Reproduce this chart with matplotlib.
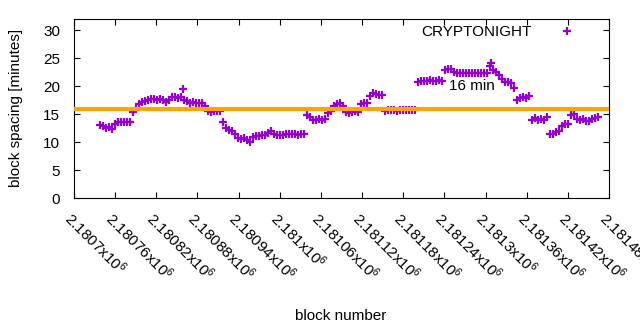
import matplotlib
matplotlib.use("Agg")
import matplotlib.pyplot as plt
from matplotlib.ticker import FuncFormatter, MultipleLocator

plt.rcParams['font.family'] = ['Liberation Sans', 'DejaVu Sans']
plt.rcParams['mathtext.default'] = 'regular'

# block number / spacing in minutes
blocks = [
    2180738, 2180742, 2180747, 2180751, 2180755, 2180760, 2180764, 2180769,
    2180773, 2180777, 2180782, 2180786, 2180790, 2180795, 2180799, 2180804,
    2180808, 2180812, 2180817, 2180821, 2180825, 2180830, 2180834, 2180839,
    2180843, 2180847, 2180852, 2180856, 2180859, 2180860, 2180865, 2180869,
    2180873, 2180878, 2180882, 2180887, 2180891, 2180895, 2180900, 2180904,
    2180908, 2180913, 2180917, 2180922, 2180926, 2180930, 2180935, 2180939,
    2180943, 2180948, 2180952, 2180957, 2180961, 2180965, 2180970, 2180974,
    2180978, 2180983, 2180987, 2180992, 2180996, 2181000, 2181005, 2181009,
    2181013, 2181018, 2181022, 2181027, 2181031, 2181035, 2181040, 2181044,
    2181048, 2181053, 2181057, 2181062, 2181066, 2181070, 2181075, 2181079,
    2181083, 2181088, 2181092, 2181097, 2181101, 2181105, 2181110, 2181114,
    2181118, 2181123, 2181127, 2181132, 2181136, 2181140, 2181145, 2181149,
    2181153, 2181158, 2181162, 2181167, 2181171, 2181175, 2181180, 2181184,
    2181188, 2181193, 2181197, 2181202, 2181206, 2181210, 2181215, 2181219,
    2181223, 2181228, 2181232, 2181237, 2181241, 2181245, 2181250, 2181254,
    2181258, 2181263, 2181267, 2181272, 2181276, 2181280, 2181285, 2181289,
    2181293, 2181298, 2181302, 2181306, 2181308, 2181311, 2181315, 2181320,
    2181324, 2181328, 2181333, 2181337, 2181341, 2181346, 2181350, 2181355,
    2181359, 2181363, 2181368, 2181372, 2181376, 2181381, 2181385, 2181390,
    2181394, 2181398, 2181403, 2181407, 2181411, 2181416, 2181420, 2181425,
    2181429, 2181433, 2181438, 2181442, 2181446, 2181451, 2181455, 2181460,
    2181464,
]
spacing = [
    13.0, 12.8, 12.6, 12.7, 12.4, 13.3, 13.6, 13.5,
    13.6, 13.6, 13.5, 15.4, 16.0, 16.8, 17.1, 17.4,
    17.6, 17.7, 17.7, 17.6, 17.7, 17.5, 17.2, 17.6,
    18.0, 18.0, 17.9, 18.0, 19.5, 17.6, 17.3, 16.9,
    17.1, 17.0, 16.9, 17.0, 16.5, 15.5, 15.3, 15.5,
    15.6, 15.5, 13.6, 12.6, 12.2, 12.0, 11.4, 10.7,
    10.6, 10.7, 10.4, 10.1, 10.9, 11.1, 11.0, 11.2,
    11.3, 11.6, 11.9, 11.5, 11.3, 11.2, 11.3, 11.4,
    11.4, 11.5, 11.5, 11.3, 11.4, 11.4, 14.8, 14.5,
    14.0, 13.9, 14.1, 14.0, 14.1, 15.2, 15.6, 16.5,
    16.8, 17.0, 16.5, 15.3, 15.2, 15.3, 15.5, 15.4,
    16.8, 17.0, 16.9, 18.3, 18.7, 18.6, 18.5, 18.4,
    15.6, 15.7, 15.7, 15.7, 15.6, 15.7, 15.7, 15.7,
    15.7, 15.7, 15.7, 20.8, 21.0, 21.0, 21.0, 21.1,
    21.0, 21.0, 21.1, 21.0, 22.8, 23.1, 23.0, 22.6,
    22.4, 22.3, 22.3, 22.3, 22.3, 22.3, 22.3, 22.3,
    22.3, 22.3, 22.4, 23.6, 24.1, 22.8, 22.5, 21.9,
    21.2, 20.8, 20.8, 20.6, 19.6, 17.5, 17.8, 18.0,
    17.9, 18.2, 14.0, 14.3, 14.0, 14.2, 14.0, 14.5,
    11.5, 11.5, 11.8, 12.0, 12.9, 13.2, 13.3, 14.8,
    15.1, 14.1, 13.9, 14.1, 13.8, 13.8, 14.1, 14.3,
    14.5,
]
target = 16
label_block = 2181280
label_y = 20

fs = 11

fig = plt.figure(figsize=(6.4, 3.3), dpi=100)
ax = fig.add_axes([74 / 640, 1 - 198 / 330, 535 / 640, 179 / 330])

ax.plot(blocks, spacing, linestyle='none', marker='+', color='#9400d3',
        markersize=6, markeredgewidth=1.6, label='CRYPTONIGHT', zorder=2)
ax.axhline(target, color='#ffa500', linewidth=3, zorder=3)
ax.text(label_block, label_y, '16 min', ha='center', va='center', fontsize=fs)

ax.set_xlim(2180700, 2181480)
ax.set_ylim(0, 32)
ax.xaxis.set_major_locator(MultipleLocator(60))
ax.yaxis.set_major_locator(MultipleLocator(5))
ax.xaxis.set_major_formatter(FuncFormatter(lambda v, p: '%.6gx10$^{6}$' % (v / 1e6)))

ax.tick_params(direction='in', length=4, width=0.8, top=True, right=True,
               labelsize=fs)
ax.tick_params(axis='x', pad=8)
ax.tick_params(axis='y', pad=10)
for lab in ax.get_xticklabels():
    lab.set_rotation(-45)
    lab.set_ha('left')
    lab.set_va('top')
    lab.set_rotation_mode('anchor')
for s in ax.spines.values():
    s.set_linewidth(0.8)

fig.text(16 / 640, 1 - 108 / 330, 'block spacing [minutes]', rotation=90,
         ha='center', va='center', fontsize=fs)
fig.text(341 / 640, 1 - 316 / 330, 'block number', ha='center', va='center',
         fontsize=fs)

ax.legend(loc='upper right', bbox_to_anchor=(0.961, 1.0), borderaxespad=0,
          frameon=False, markerfirst=False, handletextpad=1.3, handlelength=2.0,
          fontsize=fs)

fig.savefig('out.png', dpi=100)
